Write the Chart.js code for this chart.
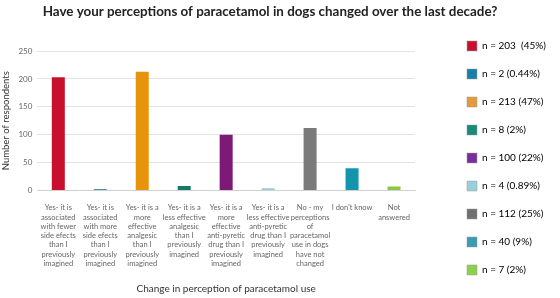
<!DOCTYPE html>
<html>
<head>
<meta charset="utf-8">
<script src="https://cdn.jsdelivr.net/npm/chart.js@4"></script>
<style>
  html, body { margin: 0; padding: 0; background: #fff; }
  #wrap { width: 560px; height: 298px; }
</style>
</head>
<body>
<div id="wrap"><canvas id="chartPerception"></canvas></div>
<script>
// categories (multi-line tick labels)
var categories = [
    ['Yes- it is', 'associated', 'with fewer', 'side efects', 'than I', 'previously', 'imagined'],
    ['Yes- it is', 'associated', 'with more', 'side efects', 'than I', 'previously', 'imagined'],
    ['Yes- it is a', 'more', 'effective', 'analgesic', 'than I', 'previously', 'imagined'],
    ['Yes- it is a', 'less effective', 'analgesic', 'than I', 'previously', 'imagined'],
    ['Yes- it is a', 'more', 'effective', 'anti-pyretic', 'drug than I', 'previously', 'imagined'],
    ['Yes- it is a', 'less effective', 'anti-pyretic', 'drug than I', 'previously', 'imagined'],
    ['No - my', 'perceptions', 'of', 'paracetamol', 'use in dogs', 'have not', 'changed'],
    ["I don't know"],
    ['Not', 'answered']
];
var respondents = [203, 2, 213, 8, 100, 4, 112, 40, 7];
var legendTexts = ['n = 203  (45%)', 'n = 2 (0.44%)', 'n = 213 (47%)', 'n = 8 (2%)', 'n = 100 (22%)',
                   'n = 4 (0.89%)', 'n = 112 (25%)', 'n = 40 (9%)', 'n = 7 (2%)'];
var yTicks = [0, 50, 100, 150, 200, 250];

var barColors = ['#c8102e', '#0e6e86', '#e8940a', '#127a68', '#7d1a78', '#9accd4', '#7a7a7a', '#1495ad', '#8dc63f'];
var legendColors = ['#c8102e', '#1a7fa8', '#e49a3a', '#1a8a78', '#7a2e9e', '#9acfdc', '#6f6f73', '#3a9cb0', '#8dd04a'];

Chart.defaults.font.family = 'Lato, "Open Sans", sans-serif';

// legend column: fixed width, then nudged right/down to sit like the original
var legendPlacePlugin = {
    id: 'legendPlace',
    afterInit: function(chart) {
        var lg = chart.legend;
        var origFit = lg.fit;
        lg.fit = function() {
            origFit.call(this);
            this.width = 145;
        };
    },
    afterLayout: function(chart) {
        chart.legend.left += 34;
        chart.legend.top += 19;
        // title sits a bit left of the canvas centre in the original
        chart.titleBlock.right -= 20;
    }
};

var ctx = document.getElementById('chartPerception');
var myBarChart = new Chart(ctx, {
    type: 'bar',
    data: {
        labels: categories,
        datasets: [{
            label: 'Number of respondents',
            data: respondents,
            backgroundColor: barColors,
            categoryPercentage: 1.0,
            barPercentage: 0.31,
        }]
    },
    plugins: [legendPlacePlugin],
    options: {
        responsive: true,
        maintainAspectRatio: false,
        animation: false,
        layout: {
            padding: { left: 0, right: 0, top: 4, bottom: 0 }
        },
        plugins: {
            title: {
                display: true,
                text: 'Have your perceptions of paracetamol in dogs changed over the last decade?',
                color: '#222',
                font: { size: 13.4, weight: 'bold' },
                padding: { top: 0, bottom: 31 }
            },
            legend: {
                position: 'right',
                align: 'start',
                labels: {
                    boxWidth: 10,
                    boxHeight: 10,
                    padding: 18,
                    color: '#111',
                    font: { size: 10 },
                    generateLabels: function(chart) {
                        return legendTexts.map(function(t, i) {
                            return {
                                text: t,
                                fillStyle: legendColors[i],
                                strokeStyle: '#999',
                                lineWidth: 0.5,
                                hidden: false,
                                index: i
                            };
                        });
                    }
                }
            },
            tooltip: { enabled: false }
        },
        scales: {
            x: {
                grid: { display: false },
                border: { display: true, color: '#d0d0d0' },
                ticks: {
                    color: '#666',
                    font: { size: 7.5, lineHeight: 1.23 },
                    maxRotation: 0,
                    autoSkip: false,
                    padding: 5
                },
                title: {
                    display: true,
                    text: 'Change in perception of paracetamol use',
                    color: '#333',
                    font: { size: 10 },
                    padding: { top: 10, bottom: 3 }
                }
            },
            y: {
                min: 0,
                max: 250,
                afterBuildTicks: function(scale) {
                    scale.ticks = yTicks.map(function(v) { return { value: v }; });
                },
                grid: { color: '#e3e3e3', drawTicks: false },
                border: { display: false },
                ticks: {
                    color: '#666',
                    font: { size: 8 },
                    padding: 5
                },
                title: {
                    display: true,
                    text: 'Number of respondents',
                    color: '#333',
                    font: { size: 9.5 },
                    padding: { top: 0, bottom: 2 }
                }
            }
        }
    }
});
</script>
</body>
</html>
